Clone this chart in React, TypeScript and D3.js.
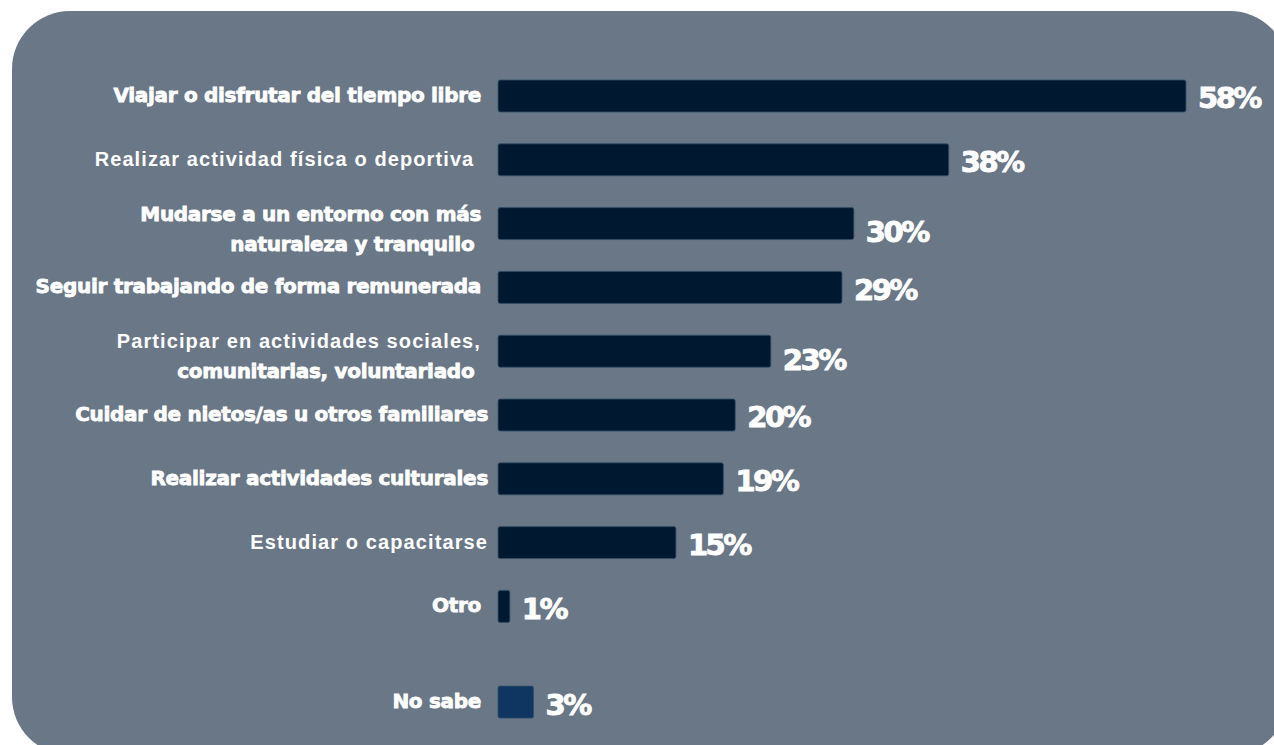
import * as d3 from "d3";
import React, { useEffect, useRef } from "react";

// categories, top to bottom (each line of a label as its own string)
const categories: string[][] = [
  ["Viajar o disfrutar del tiempo libre"],
  ["Realizar actividad física o deportiva "],
  ["Mudarse a un entorno con más", "naturaleza y tranquilo "],
  ["Seguir trabajando de forma remunerada"],
  ["Participar en actividades sociales,", "comunitarias, voluntariado "],
  ["Cuidar de nietos/as u otros familiares"],
  ["Realizar actividades culturales"],
  ["Estudiar o capacitarse"],
  ["Otro"],
  ["No sabe"],
];
const values: number[] = [58, 38, 30, 29, 23, 20, 19, 15, 1, 3];
// which label lines are set in the heavy face
const heavy: boolean[][] = [
  [true],
  [false],
  [true, true],
  [true],
  [false, true],
  [true],
  [true],
  [false],
  [true],
  [true],
];

const W = 1274;
const H = 745;
const HEAVY = "'DejaVu Sans', sans-serif";
const BOLD = "'Liberation Sans', Arial, sans-serif";

const Chart: React.FC = () => {
  const ref = useRef<SVGSVGElement>(null);

  useEffect(() => {
    if (!ref.current) return;
    const svg = d3.select(ref.current);
    svg.selectAll("*").remove();

    // panel
    svg
      .append("rect")
      .attr("x", 12)
      .attr("y", 11)
      .attr("width", 1276)
      .attr("height", 744)
      .attr("rx", 58)
      .attr("fill", "#6a7786");

    const x = d3.scaleLinear().domain([0, 58]).range([498, 1186]);
    // slot index: last one ("No sabe") sits half a slot further down
    const slot = (i: number) => (i === values.length - 1 ? i + 0.5 : i);
    const y = d3.scaleLinear().domain([0, 1]).range([96, 159.8]);
    const barH = 32;

    const g = svg.append("g");
    const rows = g
      .selectAll("g.row")
      .data(values)
      .enter()
      .append("g")
      .attr("class", "row");

    rows
      .append("rect")
      .attr("x", x(0))
      .attr("y", (_, i) => y(slot(i)) - barH / 2)
      .attr("width", (d) => x(d) - x(0))
      .attr("height", barH)
      .attr("rx", 2)
      .attr("fill", (_, i) => (i === values.length - 1 ? "#0e3660" : "#011930"))
      .attr("stroke", "#34506b")
      .attr("stroke-width", 0.8);

    // value labels
    rows
      .append("text")
      .attr("x", (d) => x(d) + 12)
      .attr("y", (_, i) => y(slot(i)) + 2 + (categories[i].length > 1 ? 6 : 0))
      .attr("dy", "0.36em")
      .attr("fill", "#ffffff")
      .attr("stroke", "#ffffff")
      .attr("stroke-width", 0.9)
      .style("font-family", HEAVY)
      .style("font-weight", 700)
      .style("font-size", "29px")
      .style("letter-spacing", "-2.5px")
      .text((d) => `${d}%`);

    // category labels
    rows.each(function (_, i) {
      const lines = categories[i];
      const cy = y(slot(i)) - 1 + (lines.length > 1 ? 6 : 0);
      const lh = 30;
      lines.forEach((line, j) => {
        const isHeavy = heavy[i][j];
        d3.select(this)
          .append("text")
          .attr("x", i >= 5 && i <= 7 ? 488 : 481)
          .attr("y", cy + (j - (lines.length - 1) / 2) * lh)
          .attr("dy", "0.35em")
          .attr("text-anchor", "end")
          .attr("fill", "#ffffff")
          .attr("stroke", isHeavy ? "#ffffff" : "none")
          .attr("stroke-width", 0.8)
          .style("white-space", "pre")
          .style("font-family", isHeavy ? HEAVY : BOLD)
          .style("font-weight", 700)
          .style("font-size", "20px")
          .style("letter-spacing", isHeavy ? "-0.3px" : "1.1px")
          .text(line);
      });
    });
  }, []);

  return <svg ref={ref} width={W} height={H} style={{ display: "block" }} />;
};

const App: React.FC = () => (
  <div style={{ position: "absolute", left: 0, top: 0, background: "#ffffff" }}>
    <Chart />
  </div>
);

export default App;
